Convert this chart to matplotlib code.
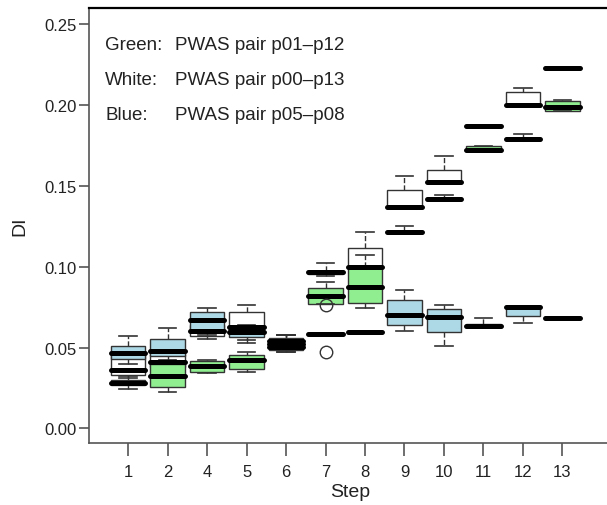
import matplotlib
matplotlib.use('Agg')
import matplotlib.pyplot as plt

plt.rcParams['font.family'] = ['Liberation Sans', 'DejaVu Sans']

steps = ['1', '2', '4', '5', '6', '7', '8', '9', '10', '11', '12', '13']

# white: PWAS pair p00-p13
white_lo = [0.031, 0.035, 0.0553, 0.0527, 0.049, 0.094, 0.098, 0.1355, 0.151, 0.1865, 0.1995, 0.2222]
white_q1 = [0.033, 0.038, 0.057, 0.060, 0.051, 0.0955, 0.100, 0.1362, 0.1515, 0.1867, 0.1998, 0.2224]
white_med = [0.0362, 0.0413, 0.060, 0.0629, 0.054, 0.0965, 0.100, 0.1367, 0.1521, 0.1871, 0.2000, 0.2226]
white_q3 = [0.047, 0.046, 0.064, 0.0722, 0.056, 0.0975, 0.1114, 0.1474, 0.160, 0.1875, 0.2078, 0.2228]
white_hi = [0.050, 0.050, 0.068, 0.0765, 0.0578, 0.1023, 0.1213, 0.1563, 0.1682, 0.1877, 0.2103, 0.2230]

# blue: PWAS pair p05-p08
blue_lo = [0.040, 0.041, 0.058, 0.055, 0.0473, 0.058, 0.059, 0.0605, 0.0512, 0.0625, 0.065, 0.0672]
blue_q1 = [0.043, 0.0445, 0.0596, 0.0567, 0.050, 0.0583, 0.0592, 0.064, 0.0594, 0.0627, 0.0697, 0.0674]
blue_med = [0.0465, 0.0477, 0.067, 0.0595, 0.0525, 0.0585, 0.0594, 0.0701, 0.0687, 0.0636, 0.0753, 0.0681]
blue_q3 = [0.0508, 0.0553, 0.072, 0.0615, 0.055, 0.0587, 0.0596, 0.0794, 0.0739, 0.0646, 0.0755, 0.0688]
blue_hi = [0.057, 0.0619, 0.0745, 0.064, 0.0578, 0.059, 0.060, 0.0856, 0.0763, 0.0681, 0.0757, 0.069]
blue_fliers = [[], [], [], [], [], [0.047], [], [], [], [], [], []]

# green: PWAS pair p01-p12
green_lo = [0.0244, 0.0224, 0.0345, 0.0347, 0.0473, 0.077, 0.0745, 0.1205, 0.141, 0.1715, 0.1782, 0.1962]
green_q1 = [0.027, 0.0255, 0.0351, 0.0368, 0.0485, 0.077, 0.0776, 0.1208, 0.1413, 0.1718, 0.1785, 0.1964]
green_med = [0.0281, 0.0326, 0.0386, 0.0423, 0.0505, 0.0817, 0.0876, 0.1213, 0.1418, 0.1721, 0.1789, 0.1989]
green_q3 = [0.030, 0.0399, 0.0419, 0.0454, 0.052, 0.0867, 0.100, 0.1218, 0.1423, 0.1744, 0.1793, 0.2026]
green_hi = [0.0326, 0.0425, 0.0425, 0.0473, 0.0578, 0.0905, 0.1074, 0.1253, 0.1445, 0.1748, 0.182, 0.203]
green_fliers = [[], [], [], [], [], [0.0763], [], [], [], [], [], []]


def make_stats(lo, q1, med, q3, hi, fl=None):
    out = []
    for i in range(len(lo)):
        out.append({'whislo': lo[i], 'q1': q1[i], 'med': med[i], 'q3': q3[i],
                    'whishi': hi[i], 'fliers': fl[i] if fl else []})
    return out


fig = plt.figure(figsize=(6.07, 5.06), dpi=100)
ax = fig.add_axes([0.1466, 0.1225, 0.86, 0.8597])

pos = list(range(len(steps)))
edge = '#333333'
series = [
    (make_stats(white_lo, white_q1, white_med, white_q3, white_hi), 'white', 2),
    (make_stats(blue_lo, blue_q1, blue_med, blue_q3, blue_hi, blue_fliers), '#ADD8E6', 3),
    (make_stats(green_lo, green_q1, green_med, green_q3, green_hi, green_fliers), '#90EE90', 4),
]
for stats, col, z in series:
    res = ax.bxp(stats, positions=pos, widths=0.88, capwidths=0.44, patch_artist=True,
                 boxprops=dict(facecolor=col, edgecolor=edge, linewidth=1.0),
                 whiskerprops=dict(color=edge, linestyle='--', linewidth=1.0),
                 capprops=dict(color=edge, linewidth=1.2),
                 medianprops=dict(color='black', linewidth=3.6, solid_capstyle='round'),
                 flierprops=dict(marker='o', markerfacecolor='none', markeredgecolor=edge,
                                 markersize=9, markeredgewidth=1.0),
                 zorder=z)
    for m in res['medians']:
        m.set_zorder(10)
    for f in res['fliers']:
        f.set_zorder(11)

ax.set_xlim(-0.99, 12.23)
ax.set_ylim(-0.009, 0.26)
ax.set_xticks(pos)
ax.set_xticklabels(steps)
ax.set_yticks([0.00, 0.05, 0.10, 0.15, 0.20, 0.25])
ax.set_yticklabels(['0.00', '0.05', '0.10', '0.15', '0.20', '0.25'])

ax.spines['right'].set_visible(False)
ax.spines['top'].set_color('black')
ax.spines['top'].set_linewidth(1.6)
for s in ['left', 'bottom']:
    ax.spines[s].set_color('#555555')
    ax.spines[s].set_linewidth(1.2)
ax.tick_params(axis='both', colors='#555555', width=1.2, labelsize=12,
               labelcolor='#222222')
ax.tick_params(axis='x', length=9, pad=6)
ax.tick_params(axis='y', length=7, pad=2)

ax.set_xlabel('Step', fontsize=14, color='#222222', labelpad=3)
ax.set_ylabel('DI', fontsize=14, color='#222222', labelpad=11)

labels = ['Green:', 'White:', 'Blue:']
names = ['PWAS pair p01\u2013p12', 'PWAS pair p00\u2013p13', 'PWAS pair p05\u2013p08']
for i in range(3):
    y = 0.2376 - i * 0.0216
    ax.text(-0.58, y, labels[i], fontsize=13.5, va='center', color='#222222')
    ax.text(1.18, y, names[i], fontsize=13.5, va='center', color='#222222')

fig.savefig('out.png', dpi=100)
